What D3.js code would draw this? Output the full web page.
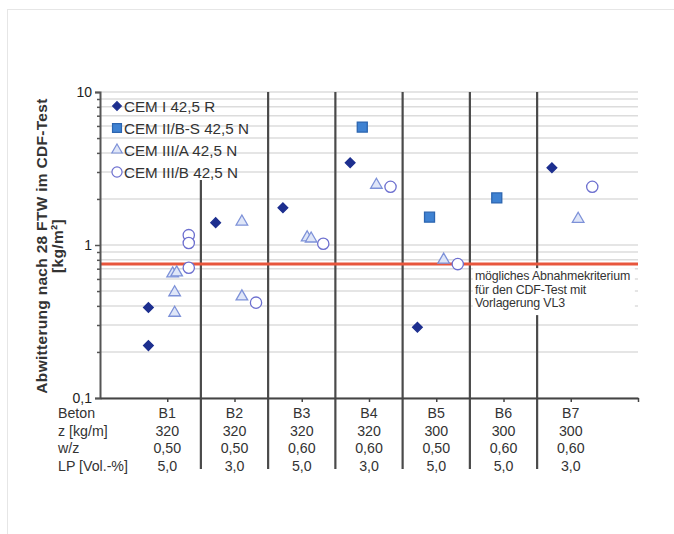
<!DOCTYPE html>
<html>
<head>
<meta charset="utf-8">
<script src="https://cdnjs.cloudflare.com/ajax/libs/d3/7.8.5/d3.min.js"></script>
<style>
    body { margin: 0; background: #fff; }
    svg { display: block; font-family: "Liberation Sans", Arial, sans-serif; }
</style>
</head>
<body>
<svg id="chart"></svg>
<script>
// categories + table rows under the axis
const categories = ["B1", "B2", "B3", "B4", "B5", "B6", "B7"];
const zRow = ["320", "320", "320", "320", "300", "300", "300"];
const wzRow = ["0,50", "0,50", "0,60", "0,60", "0,50", "0,60", "0,60"];
const lpRow = ["5,0", "3,0", "5,0", "3,0", "5,0", "5,0", "3,0"];
const rowLabels = ["Beton", "z [kg/m]", "w/z", "LP [Vol.-%]"];

// Abwitterung values per category (kg/m²)
const cemI = [[0.39, 0.22], [1.4], [1.75], [3.45], [0.29], [], [3.2]];
const cemIIBS = [[], [], [], [5.9], [1.52], [2.03], []];
const cemIIIA = [[0.65, 0.66, 0.49, 0.36], [1.42, 0.46], [1.12, 1.1], [2.47], [0.8], [], [1.48]];
const cemIIIB = [[1.16, 1.03, 0.71], [0.42], [1.02], [2.4], [0.75], [], [2.4]];

const seriesNames = ["CEM I 42,5 R", "CEM II/B-S 42,5 N", "CEM III/A 42,5 N", "CEM III/B 42,5 N"];

const yTickValues = [0.1, 1, 10];
const yTickLabels = ["0,1", "1", "10"];
const criterion = 0.75;
const criterionText = ["mögliches Abnahmekriterium", "für den CDF-Test mit", "Vorlagerung VL3"];
const yTitle = ["Abwitterung nach 28 FTW im CDF-Test", "[kg/m²]"];

class scatterCategoryChart {

    constructor(_config) {
        this.config = {
            parentElement: _config.parentElement,
            containerWidth: 674,
            containerHeight: 534,
            margin: { top: 92, bottom: 136, right: 36, left: 100 }
        }
        this.initVis();
    }

    initVis() {
        let vis = this;
        const m = vis.config.margin;
        vis.width = vis.config.containerWidth - m.left - m.right;
        vis.height = vis.config.containerHeight - m.top - m.bottom;

        vis.svg = d3.select(vis.config.parentElement)
            .attr('width', vis.config.containerWidth)
            .attr('height', vis.config.containerHeight);

        // light frame round the figure
        vis.svg.append('rect')
            .attr('x', 7.5).attr('y', 9.5)
            .attr('width', 700).attr('height', 600)
            .attr('fill', 'none')
            .attr('stroke', '#e6e6e6');

        vis.chart = vis.svg.append('g')
            .attr('transform', `translate(${m.left},${m.top})`);

        vis.x = d3.scaleLinear()
            .domain([0, categories.length + 1])
            .range([0, vis.width]);

        vis.y = d3.scaleLog()
            .domain([0.1, 10])
            .range([vis.height, 0]);

        vis.renderVis();
    }

    renderVis() {
        let vis = this;
        const x = vis.x, y = vis.y;

        // grid on every log tick
        vis.chart.append('g')
            .selectAll('line')
            .data(y.ticks())
            .join('line')
            .attr('x1', 0).attr('x2', vis.width)
            .attr('y1', d => y(d)).attr('y2', d => y(d))
            .attr('stroke', '#dcdcdc')
            .attr('stroke-width', 1.5);

        // separators between the concrete mixes
        const legendBottom = 88;
        const seps = d3.range(1, categories.length).map(i => i + 0.5);
        vis.chart.append('g')
            .selectAll('line')
            .data(seps)
            .join('line')
            .attr('x1', d => x(d)).attr('x2', d => x(d))
            .attr('y1', (d, i) => i === 0 ? legendBottom : 0)
            .attr('y2', vis.height + 71)
            .attr('stroke', '#4a4a4a')
            .attr('stroke-width', 2.2);

        // criterion line
        vis.chart.append('line')
            .attr('x1', 0).attr('x2', vis.width)
            .attr('y1', y(criterion)).attr('y2', y(criterion))
            .attr('stroke', '#e8563d')
            .attr('stroke-width', 3);

        // annotation box
        const ann = vis.chart.append('g')
            .attr('transform', `translate(${x(5.5) + 5},${y(criterion) + 16})`);
        ann.append('rect')
            .attr('x', -2).attr('y', -12)
            .attr('width', 162).attr('height', 47)
            .attr('fill', '#fff');
        ann.selectAll('text')
            .data(criterionText)
            .join('text')
            .attr('y', (d, i) => i * 13.5)
            .attr('font-size', 12.4)
            .attr('letter-spacing', -0.15)
            .attr('fill', '#333')
            .text(d => d);

        // axes
        const yAxis = d3.axisLeft(y)
            .tickValues(yTickValues)
            .tickFormat((d, i) => yTickLabels[i])
            .tickSize(5)
            .tickPadding(3);
        const yMinor = d3.axisLeft(y)
            .tickValues(y.ticks().filter(d => !yTickValues.includes(d)))
            .tickFormat('')
            .tickSize(3);

        vis.chart.append('g').call(yMinor)
            .call(g => g.select('.domain').remove())
            .call(g => g.selectAll('line').attr('stroke', '#555').attr('stroke-width', 1.5));

        vis.chart.append('g').call(yAxis)
            .call(g => g.select('.domain').attr('stroke', '#555').attr('stroke-width', 2))
            .call(g => g.selectAll('line').attr('stroke', '#555').attr('stroke-width', 1.5))
            .call(g => g.selectAll('text')
                .attr('font-size', 14)
                .attr('font-family', '"Liberation Sans", Arial, sans-serif')
                .attr('fill', '#222'));

        const xAxis = d3.axisBottom(x)
            .tickValues(d3.range(1, categories.length + 1).concat([categories.length + 1]))
            .tickFormat('')
            .tickSize(4)
            .tickSizeOuter(0);
        vis.chart.append('g')
            .attr('transform', `translate(0,${vis.height})`)
            .call(xAxis)
            .call(g => g.select('.domain').attr('stroke', '#444').attr('stroke-width', 2))
            .call(g => g.selectAll('line').attr('stroke', '#444').attr('stroke-width', 1.5));

        // y title
        const yt = vis.svg.append('g')
            .attr('transform', `translate(0,246) rotate(-90)`);
        yt.selectAll('text')
            .data(yTitle)
            .join('text')
            .attr('x', 0)
            .attr('y', (d, i) => 47 + i * 16)
            .attr('text-anchor', 'middle')
            .attr('font-size', 15.5)
            .attr('letter-spacing', 0.3)
            .attr('font-weight', 'bold')
            .attr('fill', '#333')
            .text(d => d);

        // table under the axis
        const rows = [categories, zRow, wzRow, lpRow];
        const rowY = d => vis.height + 20 + d * 17.7;
        const table = vis.chart.append('g');
        table.selectAll('.rowlabel')
            .data(rowLabels)
            .join('text')
            .attr('class', 'rowlabel')
            .attr('x', -42)
            .attr('y', (d, i) => rowY(i))
            .attr('font-size', 14.2)
            .attr('fill', '#333')
            .text(d => d);
        rows.forEach((row, r) => {
            table.append('g').selectAll('text')
                .data(row)
                .join('text')
                .attr('x', (d, i) => x(i + 1))
                .attr('y', rowY(r))
                .attr('text-anchor', 'middle')
                .attr('font-size', 14.2)
                .attr('fill', '#333')
                .text(d => d);
        });

        // markers
        const series = [
            { data: cemI, off: -0.28, shape: d3.symbolDiamond2, size: 60, fill: '#1d2f8f', stroke: '#1d2f8f' },
            { data: cemIIBS, off: -0.1, shape: d3.symbolSquare, size: 100, fill: '#3f82d2', stroke: '#2c65b0' },
            { data: cemIIIA, off: 0.11, shape: d3.symbolTriangle, size: 58, fill: '#dfe6f8', stroke: '#7d91d8' },
            { data: cemIIIB, off: 0.32, shape: d3.symbolCircle, size: 100, fill: '#fff', stroke: '#6c6fcf' }
        ];

        series.forEach(s => {
            const pts = [];
            s.data.forEach((vals, ci) => {
                vals.forEach((v, k) => {
                    // nudge near-duplicates apart a little so both stay visible
                    const twin = vals.findIndex((w, j) => j !== k && Math.abs(Math.log(w / v)) < 0.05);
                    const nudge = twin < 0 ? 0 : (k < twin ? -2 : 2);
                    pts.push({ cx: x(ci + 1 + s.off) + nudge, v: v });
                });
            });
            vis.chart.append('g').selectAll('path')
                .data(pts)
                .join('path')
                .attr('transform', d => `translate(${d.cx},${y(d.v)})`)
                .attr('d', d3.symbol().type(s.shape).size(s.size))
                .attr('fill', s.fill)
                .attr('stroke', s.stroke)
                .attr('stroke-width', 1.3);
        });

        // legend
        const legend = vis.chart.append('g')
            .attr('transform', 'translate(17,14)');
        const lg = legend.selectAll('g')
            .data(series)
            .join('g')
            .attr('transform', (d, i) => `translate(0,${i * 22})`);
        lg.append('path')
            .attr('d', d => d3.symbol().type(d.shape).size(d.size * 0.8)())
            .attr('fill', d => d.fill)
            .attr('stroke', d => d.stroke)
            .attr('stroke-width', 1.2);
        lg.append('text')
            .attr('x', 7)
            .attr('y', 5.5)
            .attr('font-size', 15.2)
            .attr('fill', '#333')
            .text((d, i) => seriesNames[i]);
    }
}

let chart = new scatterCategoryChart({ parentElement: '#chart' });
</script>
</body>
</html>
